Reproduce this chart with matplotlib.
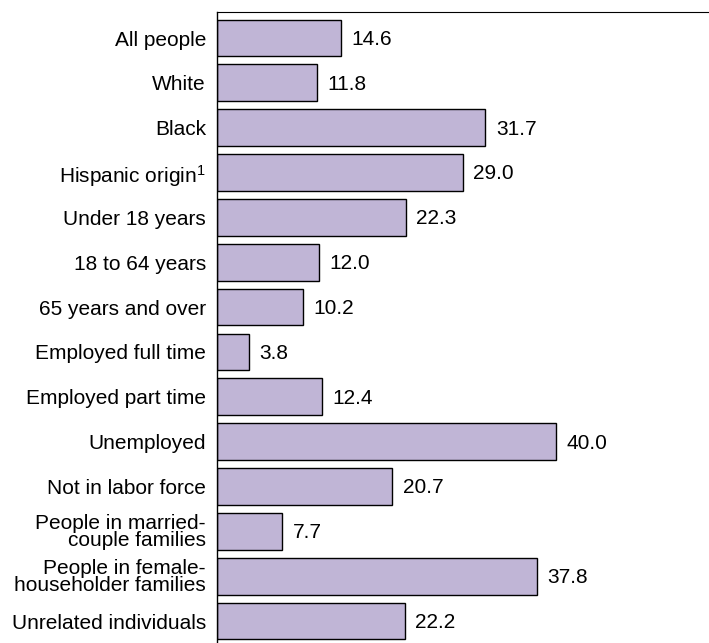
import matplotlib
matplotlib.use("Agg")
import matplotlib.pyplot as plt

plt.rcParams['font.family'] = ['Liberation Sans', 'DejaVu Sans']
plt.rcParams['mathtext.fontset'] = 'custom'
plt.rcParams['mathtext.rm'] = 'Liberation Sans'
plt.rcParams['mathtext.default'] = 'regular'

categories = ["All people", "White", "Black", "Hispanic origin$^{1}$", "Under 18 years",
              "18 to 64 years", "65 years and over", "Employed full time",
              "Employed part time", "Unemployed", "Not in labor force",
              "People in married-\ncouple families", "People in female-\nhouseholder families",
              "Unrelated individuals"]
values = [14.6, 11.8, 31.7, 29.0, 22.3, 12.0, 10.2, 3.8, 12.4, 40.0, 20.7, 7.7, 37.8, 22.2]

fig = plt.figure(figsize=(7.09, 6.43), dpi=100)
ax = fig.add_axes([217/709, 0.0, 1 - 217/709, 1 - 12/643])

pos = list(range(len(values)))
ax.barh(pos, values, height=0.82, color="#c0b5d6", edgecolor="black", linewidth=1.0)
ax.set_xlim(0, 58.1)
ax.set_ylim(13.49, -0.58)

for p, v in zip(pos, values):
    ax.annotate(f"{v:.1f}", xy=(v, p), xytext=(7.5, -1), textcoords="offset points",
                ha="left", va="center", fontsize=15)

ax.set_yticks(pos)
ax.set_yticklabels(categories, fontsize=15, ha="right", linespacing=0.85)
ax.tick_params(axis="y", length=0, pad=8)
ax.set_xticks([])
for s in ["right", "bottom"]:
    ax.spines[s].set_visible(False)
ax.spines["left"].set_linewidth(1.0)
ax.spines["top"].set_linewidth(0.8)

fig.savefig("out.png", dpi=100)
